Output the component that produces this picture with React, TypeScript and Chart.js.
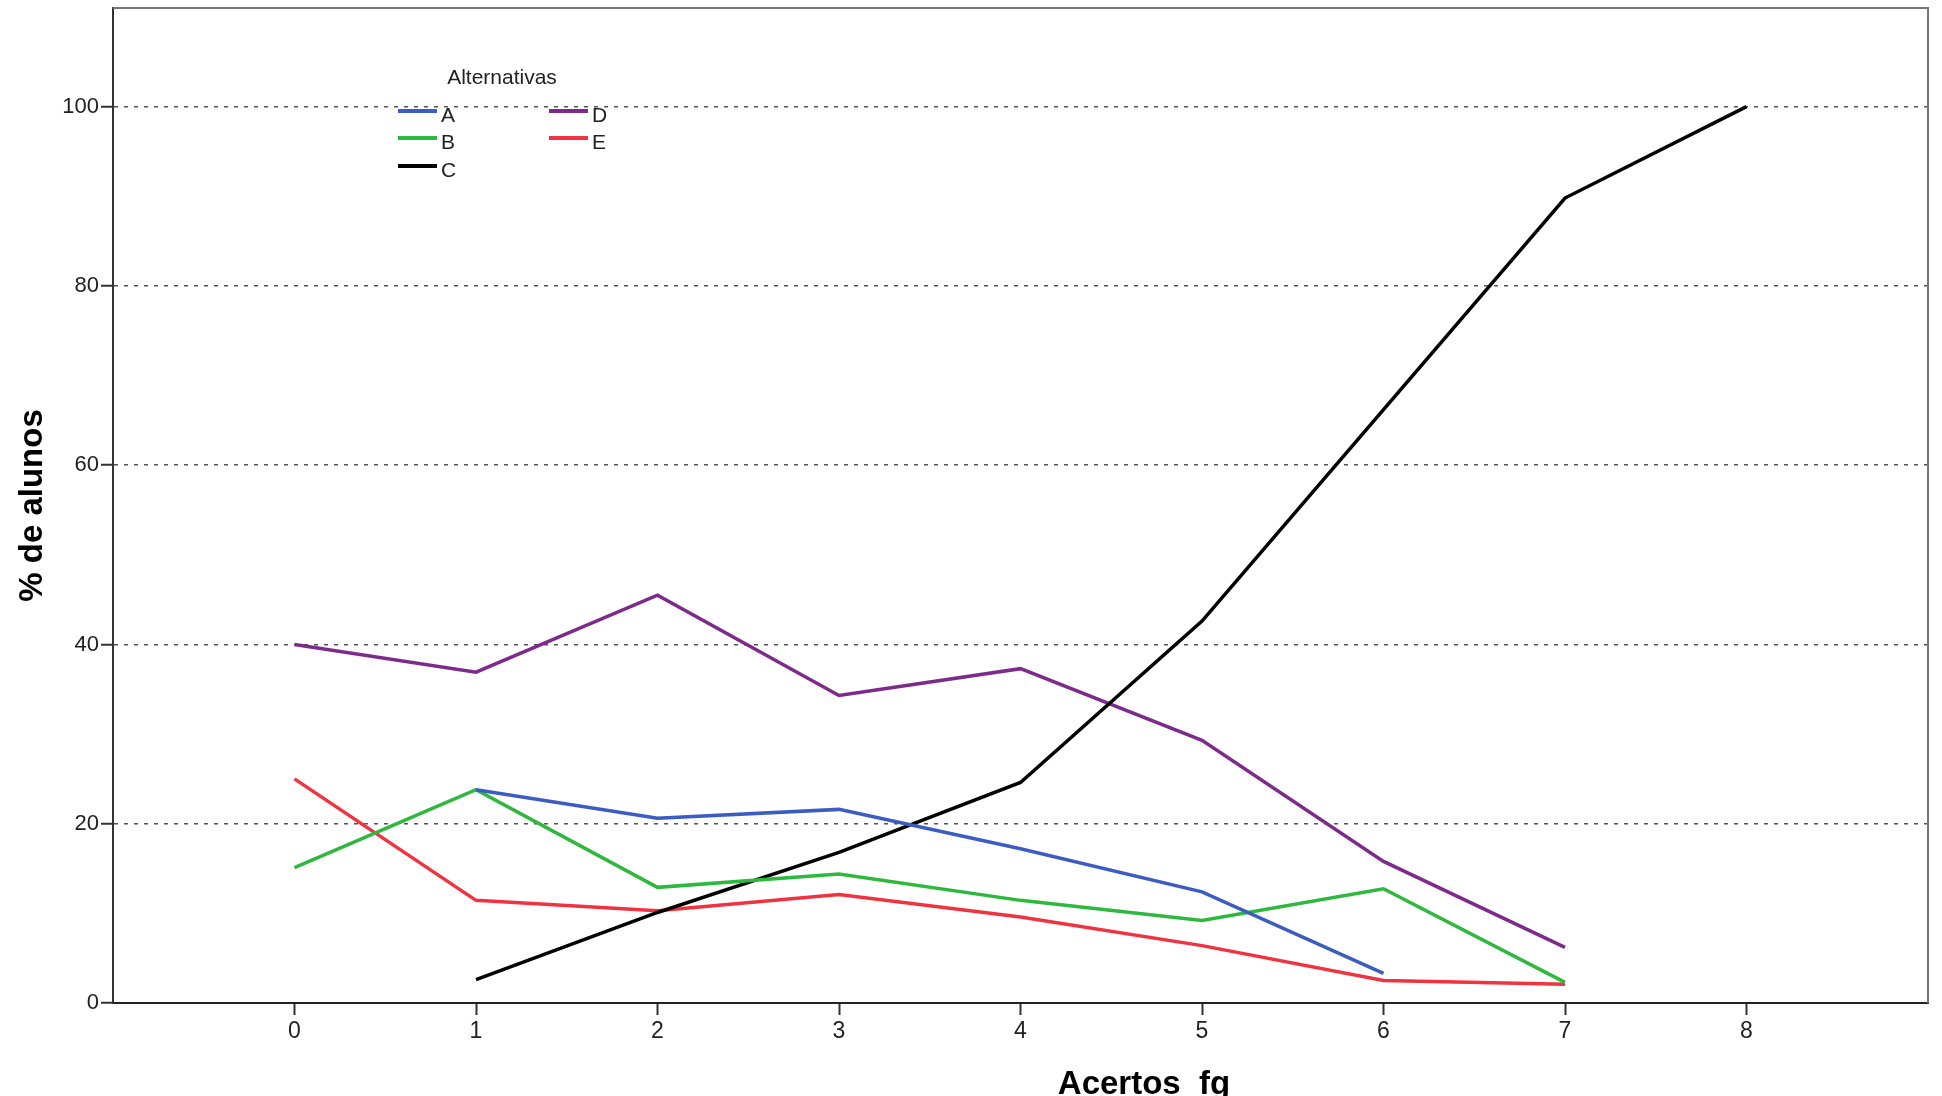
import React, { useEffect, useRef } from "react";
import { Chart, registerables } from "chart.js";

Chart.register(...registerables);

const xCategories = [0, 1, 2, 3, 4, 5, 6, 7, 8];
const yTicks = [0, 20, 40, 60, 80, 100];
const seriesLabels = ["A", "B", "C", "D", "E"];
const seriesColors = ["#3d5cc2", "#2eb83e", "#000000", "#7c2b8b", "#ef3340"];
const valuesA = [null, 23.8, 20.6, 21.6, 17.2, 12.4, 3.3, null, null];
const valuesB = [15.1, 23.8, 12.9, 14.4, 11.45, 9.2, 12.75, 2.3, null];
const valuesC = [null, 2.6, 10.1, 16.8, 24.6, 42.6, 66.2, 89.8, 100];
const valuesD = [40.0, 36.9, 45.5, 34.3, 37.3, 29.3, 15.8, 6.2, null];
const valuesE = [25.0, 11.45, 10.3, 12.1, 9.6, 6.4, 2.5, 2.1, null];
const legendTitle = "Alternativas";
const xTitle = "Acertos_fg";
const yTitle = "% de alunos";

const FONT = "'Liberation Sans', Arial, sans-serif";

const overlayPlugin = {
  id: "overlay",
  afterDraw(chart: any) {
    const { ctx, chartArea } = chart;
    ctx.save();
    // frame top and right
    ctx.strokeStyle = "#777";
    ctx.lineWidth = 2;
    ctx.beginPath();
    ctx.moveTo(chartArea.left, chartArea.top);
    ctx.lineTo(chartArea.right, chartArea.top);
    ctx.lineTo(chartArea.right, chartArea.bottom);
    ctx.stroke();

    // axis titles
    ctx.fillStyle = "#000";
    ctx.font = `bold 33px ${FONT}`;
    ctx.textAlign = "center";
    ctx.textBaseline = "alphabetic";
    ctx.fillText(xTitle, 1144, 1094);
    ctx.save();
    ctx.translate(42, (chartArea.top + chartArea.bottom) / 2);
    ctx.rotate(-Math.PI / 2);
    ctx.fillText(yTitle, 0, 0);
    ctx.restore();

    // legend
    ctx.fillStyle = "#222";
    ctx.font = `21px ${FONT}`;
    ctx.textAlign = "center";
    ctx.fillText(legendTitle, 502, 84);
    ctx.textAlign = "left";
    const cols = [398, 549];
    const rows = [111, 138, 166];
    const datasets = chart.data.datasets;
    datasets.forEach((ds: any, i: number) => {
      const col = i < 3 ? 0 : 1;
      const row = i < 3 ? i : i - 3;
      const x = cols[col];
      const y = rows[row];
      ctx.strokeStyle = ds.borderColor;
      ctx.lineWidth = 4;
      ctx.beginPath();
      ctx.moveTo(x, y);
      ctx.lineTo(x + 39, y);
      ctx.stroke();
      ctx.fillStyle = "#222";
      ctx.fillText(ds.label, x + 43, y + 10.5);
    });
    ctx.restore();
  },
};

export default function App() {
  const canvasRef = useRef<HTMLCanvasElement | null>(null);

  useEffect(() => {
    const canvas = canvasRef.current;
    if (!canvas) return;
    const allValues = [valuesA, valuesB, valuesC, valuesD, valuesE];
    const datasets = allValues.map((vals, i) => ({
      label: seriesLabels[i],
      data: xCategories.map((x, j) => ({ x, y: vals[j] })),
      borderColor: seriesColors[i],
      backgroundColor: seriesColors[i],
      borderWidth: 3.5,
      pointRadius: 0,
      pointHoverRadius: 0,
      fill: false,
      tension: 0,
      spanGaps: false,
    }));

    const chart = new Chart(canvas, {
      type: "line",
      data: { datasets },
      plugins: [overlayPlugin],
      options: {
        animation: false,
        responsive: false,
        devicePixelRatio: 1,
        layout: { padding: { left: 0, right: 14, top: 8, bottom: 0 } },
        plugins: {
          legend: { display: false },
          tooltip: { enabled: false },
          title: { display: false },
        },
        scales: {
          x: {
            type: "linear",
            min: -1,
            max: 9,
            afterBuildTicks: (scale: any) => {
              scale.ticks = xCategories.map((v) => ({ value: v }));
            },
            afterFit: (scale: any) => {
              scale.height = 93;
              scale.paddingLeft = 0;
              scale.paddingRight = 0;
            },
            ticks: {
              color: "#222",
              font: { family: FONT, size: 23 },
              padding: 3,
              maxRotation: 0,
              autoSkip: false,
              callback: (v: any) => String(v),
            },
            grid: {
              display: true,
              drawOnChartArea: false,
              drawTicks: true,
              tickLength: 12,
              tickColor: "#333",
              tickWidth: 2,
              color: "#333",
            },
            border: { display: true, color: "#222", width: 2 },
          },
          y: {
            type: "linear",
            min: 0,
            max: 111,
            afterBuildTicks: (scale: any) => {
              scale.ticks = yTicks.map((v) => ({ value: v }));
            },
            afterFit: (scale: any) => {
              scale.width = 113;
              scale.paddingTop = 0;
              scale.paddingBottom = 0;
            },
            ticks: {
              color: "#222",
              font: { family: FONT, size: 22 },
              padding: 2,
              autoSkip: false,
              callback: (v: any) => String(v),
            },
            grid: {
              display: true,
              drawOnChartArea: true,
              drawTicks: true,
              tickLength: 12,
              tickColor: "#333",
              tickWidth: 2,
              color: "#555",
              lineWidth: 1.5,
            },
            border: { display: true, color: "#333", width: 2, dash: [4, 6] },
          },
        },
      },
    });
    return () => chart.destroy();
  }, []);

  return (
    <div style={{ position: "fixed", left: 0, top: 0, width: 1942, height: 1096, background: "#fff" }}>
      <canvas ref={canvasRef} width={1942} height={1096} style={{ display: "block" }} />
    </div>
  );
}
